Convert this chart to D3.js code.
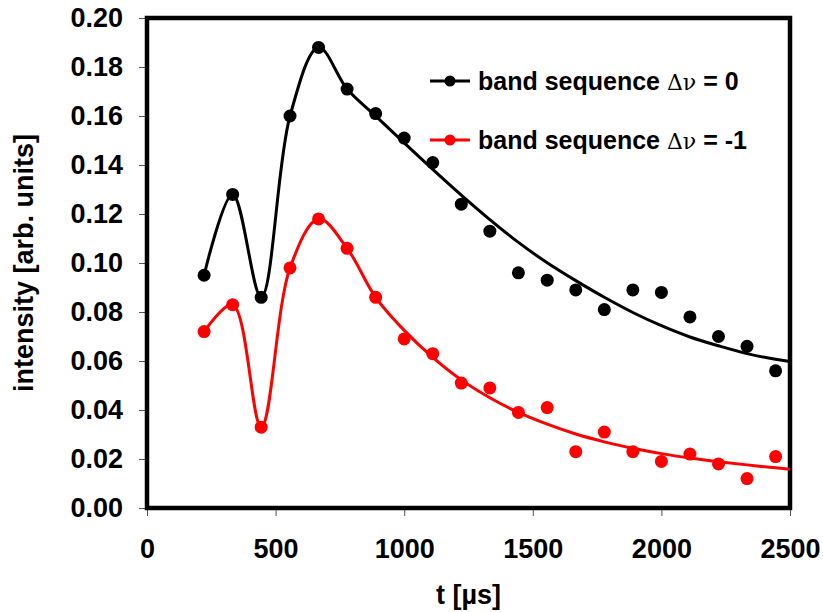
<!DOCTYPE html>
<html>
<head>
<meta charset="utf-8">
<script src="https://cdn.jsdelivr.net/npm/d3@7"></script>
<style>
  body { margin: 0; background: #fff; }
  text { font-family: "Liberation Sans", Arial, sans-serif; font-weight: bold; }
</style>
</head>
<body>
<div id="chart"></div>
<script>
// measured points (t in µs)
const times = [222, 333, 444, 556, 667, 778, 889, 1000, 1111, 1222, 1333, 1444, 1556, 1667, 1778, 1889, 2000, 2111, 2222, 2333, 2444];
const band0 = [0.095, 0.128, 0.086, 0.160, 0.188, 0.171, 0.161, 0.151, 0.141, 0.124, 0.113, 0.096, 0.093, 0.089, 0.081, 0.089, 0.088, 0.078, 0.070, 0.066, 0.056];
const bandM1 = [0.072, 0.083, 0.033, 0.098, 0.118, 0.106, 0.086, 0.069, 0.063, 0.051, 0.049, 0.039, 0.041, 0.023, 0.031, 0.023, 0.019, 0.022, 0.018, 0.012, 0.021];

// smoothed / fitted curves
const curveT = [222, 333, 444, 556, 667, 778, 889, 1000, 1111, 1222, 1333, 1444, 1556, 1667, 1778, 1889, 2000, 2111, 2222, 2333, 2444, 2500];
const curve0 = [0.095, 0.128, 0.086, 0.160, 0.188, 0.171, 0.160, 0.149, 0.1382, 0.1277, 0.1177, 0.1084, 0.1001, 0.0928, 0.0860, 0.0798, 0.0744, 0.0698, 0.0662, 0.0630, 0.0607, 0.0598];
const curveM1 = [0.072, 0.083, 0.033, 0.098, 0.118, 0.106, 0.086, 0.0725, 0.0615, 0.0523, 0.0450, 0.0390, 0.0342, 0.0302, 0.0270, 0.0244, 0.0222, 0.0204, 0.0189, 0.0176, 0.0164, 0.0158];

const xTicks = [0, 500, 1000, 1500, 2000, 2500];
const yTicks = [0, 0.02, 0.04, 0.06, 0.08, 0.10, 0.12, 0.14, 0.16, 0.18, 0.20];

const series = [
    { name: "band sequence ", tail: " = 0", values: band0, curve: curve0, color: "#000000" },
    { name: "band sequence ", tail: " = -1", values: bandM1, curve: curveM1, color: "#ff0000" }
];

const width = 823;
const height = 612;
const margin = { top: 18, right: 33, bottom: 104, left: 147 };

const svg = d3.select("#chart")
    .append("svg")
    .attr("width", width)
    .attr("height", height);

const x = d3.scaleLinear()
    .domain([0, 2500])
    .range([margin.left, width - margin.right]);

const y = d3.scaleLinear()
    .domain([0, 0.2])
    .range([height - margin.bottom, margin.top]);

// axes
const xAxis = svg.append("g")
    .attr("transform", `translate(0,${height - margin.bottom})`)
    .call(d3.axisBottom(x).tickValues(xTicks).tickSize(8).tickPadding(23).tickFormat(d3.format("d")));

const yAxis = svg.append("g")
    .attr("transform", `translate(${margin.left},0)`)
    .call(d3.axisLeft(y).tickValues(yTicks).tickSize(8).tickPadding(16).tickFormat(d3.format(".2f")));

[xAxis, yAxis].forEach(g => {
    g.select(".domain").remove();
    g.selectAll(".tick line").attr("stroke", "#555").attr("stroke-width", 1);
    g.selectAll("text").attr("fill", "#000").style("font-size", "27px");
});

// plot frame
svg.append("rect")
    .attr("x", x(0))
    .attr("y", y(0.2))
    .attr("width", x(2500) - x(0))
    .attr("height", y(0) - y(0.2))
    .attr("fill", "none")
    .attr("stroke", "#000")
    .attr("stroke-width", 4.5);

const line = d3.line()
    .x((d, i) => x(curveT[i]))
    .y(d => y(d))
    .curve(d3.curveCatmullRom.alpha(0.5));

series.forEach(s => {
    svg.append("path")
        .datum(s.curve)
        .attr("fill", "none")
        .attr("stroke", s.color)
        .attr("stroke-width", 3)
        .attr("d", line);

    svg.selectAll(null)
        .data(s.values)
        .enter()
        .append("circle")
        .attr("cx", (d, i) => x(times[i]))
        .attr("cy", d => y(d))
        .attr("r", 6.5)
        .attr("fill", s.color);
});

// legend
const legend = svg.append("g").attr("transform", "translate(430,81)");
series.forEach((s, i) => {
    const row = legend.append("g").attr("transform", `translate(0,${i * 59})`);
    row.append("line")
        .attr("x1", 0).attr("x2", 40)
        .attr("stroke", s.color).attr("stroke-width", 3);
    row.append("circle").attr("cx", 20).attr("r", 5.5).attr("fill", s.color);
    const t = row.append("text")
        .attr("x", 48)
        .attr("y", 9)
        .style("font-size", "25px");
    t.append("tspan").text(s.name);
    t.append("tspan").text("\u0394\u03bd").style("font-family", "DejaVu Serif").style("font-weight", "normal").style("font-size", "22px");
    t.append("tspan").text(s.tail);
});

// axis titles
svg.append("text")
    .attr("x", (x(0) + x(2500)) / 2)
    .attr("y", 604)
    .attr("text-anchor", "middle")
    .style("font-size", "27px")
    .text("t [µs]");

svg.append("text")
    .attr("transform", `translate(33,${(y(0) + y(0.2)) / 2}) rotate(-90)`)
    .attr("text-anchor", "middle")
    .style("font-size", "27px")
    .text("intensity [arb. units]");
</script>
</body>
</html>
